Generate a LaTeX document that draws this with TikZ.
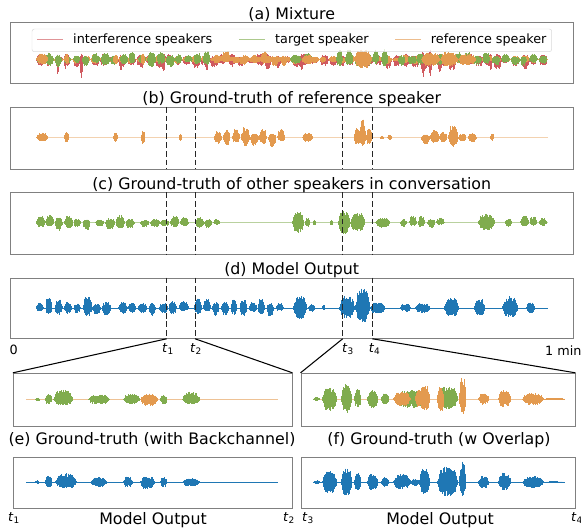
\documentclass[tikz,border=0pt]{standalone}
\usepackage{fontspec}
\setmainfont{DejaVu Sans}
\usetikzlibrary{fit}

\definecolor{refc}{RGB}{227,154,79}
\definecolor{tgtc}{RGB}{128,172,78}
\definecolor{intc}{RGB}{208,90,95}
\definecolor{outc}{RGB}{31,119,180}

% one burst of speech: from, to, up, down, centre, colour
\newcommand\burst[6]{%
  \pgfmathtruncatemacro\wn{max((#2-#1)/0.45,2)}
  \pgfmathsetmacro\wd{(#2-#1)/\wn}
  \foreach \i in {0,...,\wn}{
    \pgfmathsetmacro\wx{#1+\wd*\i}
    \pgfmathsetmacro\ws{abs(sin(180/\wn*\i))}
    \pgfmathsetmacro\wenv{\ws*(2-\ws)}
    \pgfmathsetmacro\wup{#3*\wenv*(0.55+0.45*rnd)}
    \pgfmathsetmacro\wdn{#4*\wenv*(0.55+0.45*rnd)}
    \draw[#6, wave] (\wx,#5-\wup) -- (\wx,#5+\wdn);
  }
}
% many short bursts in a row
\newcommand\dense[6]{%
  \pgfmathtruncatemacro\dcount{(#2-#1)/9}
  \pgfmathsetmacro\dslot{(#2-#1)/\dcount}
  \foreach \k in {1,...,\dcount}{
    \pgfmathsetmacro\dfrom{#1+(\k-1)*\dslot}
    \pgfmathsetmacro\dto{\dfrom+\dslot*(0.7+0.3*rnd)}
    \pgfmathsetmacro\dup{#3*(0.35+0.65*rnd)}
    \pgfmathsetmacro\ddown{#4*(0.35+0.65*rnd)}
    \burst{\dfrom}{\dto}{\dup}{\ddown}{#5}{#6}
  }
}
\newcommand\speech[3]{%
  \foreach \xa/\xb/\au/\ad in {#3}{\burst{\xa}{\xb}{\au}{\ad}{#1}{#2}}
}

\begin{document}
\begin{tikzpicture}[x=0.03cm, y=-0.03cm,
  panel/.style={draw=black!50, line width=0.8pt, inner sep=0pt},
  wave/.style={line width=0.5pt},
  base/.style={line width=0.8pt},
  sample/.style={line width=1.3pt},
  cut/.style={draw=black!85, line width=0.8pt, dash pattern=on 5pt off 2.5pt},
  zoomline/.style={draw=black, line width=0.9pt},
  ttl/.style={font=\fontsize{13.5}{16}\selectfont, anchor=base, inner sep=0pt},
  tick/.style={font=\fontsize{10.9}{13}\selectfont, anchor=base, inner sep=0pt},
  lgd/.style={font=\fontsize{10.9}{13}\selectfont, anchor=west, inner sep=0pt}]

\useasboundingbox (0,0) rectangle (581,528);
\pgfmathsetseed{11}

\node[panel, fit={(10.7,22.7) (573.5,83)}] (boxa) {};
\node[panel, fit={(10.7,107.3) (573.5,169)}] (boxb) {};
\node[panel, fit={(10.7,192.7) (573.5,254)}] (boxc) {};
\node[panel, fit={(10.7,278) (573.5,338.3)}] (boxd) {};
\node[panel, fit={(13.3,373.3) (292,426)}] (boxe) {};
\node[panel, fit={(301,373.3) (575,426)}] (boxf) {};
\node[panel, fit={(13.3,457.7) (292,508.3)}] (boxe2) {};
\node[panel, fit={(301,457.7) (575,508.3)}] (boxf2) {};

\node[ttl] (tta) at (291.7,19.5) {(a) Mixture};
\node[ttl] (ttb) at (291.7,103.5) {(b) Ground-truth of reference speaker};
\node[ttl] (ttc) at (291.7,189) {(c) Ground-truth of other speakers in conversation};
\node[ttl] (ttd) at (291.7,274) {(d) Model Output};
\node[ttl] (tte) at (152,444) {(e) Ground-truth (with Backchannel)};
\node[ttl] (ttf) at (439,444) {(f) Ground-truth (w Overlap)};
\node[ttl] (mte) at (153,524) {Model Output};
\node[ttl] (mtf) at (440,524) {Model Output};

% (a) mixture
\draw[refc, base] (36,59.5) -- (548,59.5);
\dense{36}{548}{6}{11}{59.5}{intc}
\speech{59.5}{intc}{56/59/6/16, 80/83/6/20, 119/122/5/12, 162/165/6/14, 205/208/5/12,
  300/303/6/12, 421/425/8/18, 428/432/10/18, 438/441/6/14, 489/492/6/12}
\dense{36}{548}{5}{5}{59.5}{refc}
\dense{36}{212}{9}{8}{59.5}{tgtc}
\dense{290}{315}{9}{8}{59.5}{tgtc}
\dense{336}{390}{11}{9}{59.5}{tgtc}
\dense{398}{548}{8}{8}{59.5}{tgtc}
\dense{212}{290}{9}{9}{59.5}{refc}
\speech{59.5}{refc}{36/48/6/5, 64/69/6/5, 113/118/5/5, 141/145/7/6, 302/313/5/5,
  354/372/10/9, 421/440/7/7, 440/458/8/7, 458/476/6/6}

\node[draw=black!15, fill=white, fill opacity=0.8, rounded corners=2pt, inner sep=0pt,
  fit={(32,29) (551.7,51.7)}] (lgbox) {};
\draw[intc!65, sample] (37,39.5) -- (63,39.5);
\node[lgd] (lg1) at (73,39.5) {interference speakers};
\draw[tgtc!65, sample] (239,39.5) -- (265,39.5);
\node[lgd] (lg2) at (275,39.5) {target speaker};
\draw[refc!65, sample] (395,39.5) -- (420.7,39.5);
\node[lgd] (lg3) at (430.7,39.5) {reference speaker};

% (b) reference speaker
\draw[refc!45, base] (36,137.7) -- (548,137.7);
\speech{137.7}{refc}{36/48/5/4, 64/69/6/5, 113/118/5/4, 141/145/7/6, 179/182/4/3,
  302/313/5/4, 354/360/10/9, 359/366/19/9, 366/372/9/8, 380/384/2/2, 387/392/3/2,
  448/458/13/9, 490/494/4/3}
\dense{214}{286}{11}{10}{137.7}{refc}
\dense{421}{448}{8}{7}{137.7}{refc}
\dense{458}{477}{6}{5}{137.7}{refc}

% (c) other speakers
\draw[tgtc!55, base] (36,222.7) -- (548,222.7);
\dense{36}{92}{8}{8}{222.7}{tgtc}
\dense{95}{136}{8}{8}{222.7}{tgtc}
\dense{140}{190}{7}{7}{222.7}{tgtc}
\dense{195}{222}{7}{6}{222.7}{tgtc}
\speech{222.7}{tgtc}{292/304/11/10, 305/310/5/4, 313/316/3/3, 330/333/3/3, 338/350/13/12,
  350/365/10/9, 375/390/5/5, 478/495/9/8, 505/512/4/4}
\dense{400}{445}{7}{6}{222.7}{tgtc}
\dense{520}{548}{8}{7}{222.7}{tgtc}

% (d) model output
\draw[outc, base] (36,308) -- (548,308);
\dense{36}{111}{12}{10}{308}{outc}
\dense{118}{189}{9}{8}{308}{outc}
\dense{194}{285}{10}{9}{308}{outc}
\speech{308}{outc}{293/307/12/11, 308/315/4/4, 322/325/3/3, 339/355/12/11, 355/370/20/14,
  370/385/6/6, 400/411/5/4, 415/430/5/5, 444/459/10/9, 474/485/9/8, 502/518/12/10, 526/535/6/5}

% (e), (f) zoomed ground truth
\draw[refc!60, base] (26,399.5) -- (278,399.5);
\speech{399.5}{tgtc}{35/40/2/2, 45/52/6/5, 53/73/10/6, 88/110/5/5, 123/140/6/5, 160/167/5/5, 182/200/8/5}
\speech{399.5}{refc}{140/158/6/7}
\draw[refc!60, base] (313,399) -- (565,399);
\speech{399}{tgtc}{313/320/2/2, 322/337/12/12, 341/352/15/14, 354/361/10/9, 367/378/9/9,
  381/389/6/6, 395/430/9/9, 437/458/13/10}
\speech{399}{refc}{393/411/7/7, 415/422/10/8, 419/430/14/12, 437/444/12/13, 459/466/22/15,
  478/489/6/6, 498/511/9/8, 522/544/6/6, 544/565/1/1}

% zoomed model output
\draw[outc, base] (26,482.3) -- (278,482.3);
\speech{482.3}{outc}{35/39/2/2, 45/52/7/5, 55/77/9/6, 90/107/5/5, 123/133/6/5, 140/155/6/7,
  160/167/5/5, 182/200/4/4}
\draw[outc, base] (313,482.3) -- (565,482.3);
\speech{482.3}{outc}{313/320/2/2, 322/337/12/11, 341/352/15/14, 354/361/10/8, 367/378/9/8,
  381/389/5/5, 393/411/8/7, 411/419/4/4, 419/430/14/12, 437/458/16/14, 459/466/22/15,
  478/489/6/6, 498/511/10/8, 522/544/6/6, 544/565/1/1}

\foreach \tx in {166.7,195,342.7,372.3}
  \foreach \bx in {b,c,d}
    \draw[cut] (\tx,0 |- box\bx.north) -- (\tx,0 |- box\bx.south);

\coordinate (t1) at (166.7,0 |- boxd.south);
\coordinate (t2) at (195,0 |- boxd.south);
\coordinate (t3) at (342.7,0 |- boxd.south);
\coordinate (t4) at (372.3,0 |- boxd.south);
\draw[zoomline] (t1) -- (boxe.north west);
\draw[zoomline] (t2) -- (boxe.north east);
\draw[zoomline] (t3) -- (boxf.north west);
\draw[zoomline] (t4) -- (boxf.north east);

\node[tick] (zero) at (13.7,354.3) {0};
\node[tick, anchor=base west] (onemin) at (545,355) {1 min};
\node[tick] (lt1) at (168,352.5) {\textit{t}\textsubscript{1}};
\node[tick] (lt2) at (196,352.5) {\textit{t}\textsubscript{2}};
\node[tick] (lt3) at (348,352.5) {\textit{t}\textsubscript{3}};
\node[tick] (lt4) at (374.6,352.5) {\textit{t}\textsubscript{4}};
\node[tick] (bt1) at (14,521.7) {\textit{t}\textsubscript{1}};
\node[tick] (bt2) at (289,521.7) {\textit{t}\textsubscript{2}};
\node[tick] (bt3) at (308,521.7) {\textit{t}\textsubscript{3}};
\node[tick] (bt4) at (577,521.7) {\textit{t}\textsubscript{4}};
\end{tikzpicture}
\end{document}
